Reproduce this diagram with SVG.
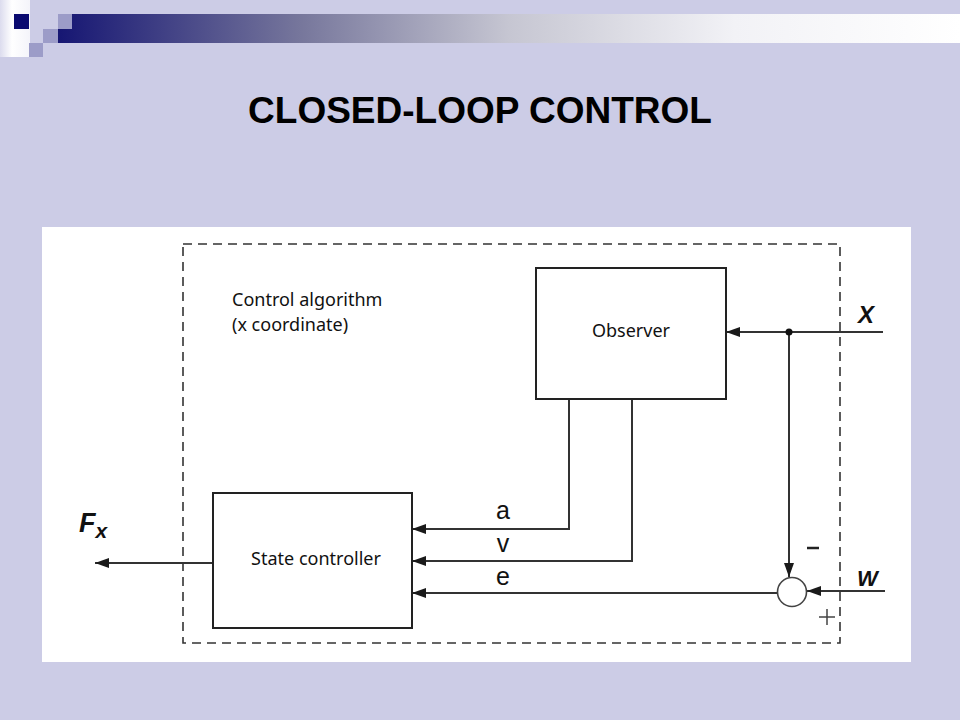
<svg xmlns="http://www.w3.org/2000/svg" width="960" height="720" viewBox="0 0 960 720">
<defs>
<linearGradient id="bar" x1="58" y1="0" x2="960" y2="0" gradientUnits="userSpaceOnUse">
<stop offset="0" stop-color="#161673"/>
<stop offset="0.27" stop-color="#77779C"/>
<stop offset="0.5" stop-color="#C6C6D2"/>
<stop offset="0.75" stop-color="#F2F2F6"/>
<stop offset="1" stop-color="#FFFFFF"/>
</linearGradient>
<linearGradient id="strip" x1="0" y1="0" x2="30" y2="0" gradientUnits="userSpaceOnUse">
<stop offset="0" stop-color="#DCDCEE"/>
<stop offset="0.4" stop-color="#FFFFFF"/>
<stop offset="1" stop-color="#F4F4FA"/>
</linearGradient>
<marker id="ah" viewBox="0 0 14 10" refX="14" refY="5" markerWidth="14" markerHeight="10" markerUnits="userSpaceOnUse" orient="auto">
<path d="M0,0 L14,5 L0,10 Z" fill="#1a1a1a"/>
</marker>
<style>
.box{fill:#fff;stroke:#222;stroke-width:2}
.wire{fill:none;stroke:#333;stroke-width:2}
.lbl{font-family:"Noto Sans","Open Sans",sans-serif;font-size:18px;fill:#111}
.sig{font-family:"Liberation Sans",Arial,sans-serif;font-size:25px;fill:#111;text-anchor:middle}
.var{font-family:"Liberation Sans",Arial,sans-serif;font-weight:bold;font-style:italic;fill:#111}
</style>
</defs>
<rect x="0" y="0" width="960" height="720" fill="#CCCCE6"/>
<g id="decoration">
<rect x="0" y="0" width="30" height="57" fill="url(#strip)"/>
<rect x="58" y="14" width="902" height="29" fill="url(#bar)"/>
<rect x="14" y="14" width="15" height="15" fill="#0A0A70"/>
<rect x="58" y="14" width="14" height="15" fill="#9C9CC8"/>
<rect x="43" y="29" width="15" height="14" fill="#9C9CC8"/>
<rect x="29" y="43" width="14" height="14" fill="#9C9CC8"/>
</g>
<text x="480" y="123" text-anchor="middle" font-family="Liberation Sans, Arial, sans-serif" font-weight="bold" font-size="37" fill="#000">CLOSED-LOOP CONTROL</text>
<rect x="42" y="227" width="869" height="435" fill="#FFFFFF"/>
<g id="algorithm-boundary">
<rect x="183" y="244" width="657" height="399" fill="none" stroke="#333" stroke-width="1.6" stroke-dasharray="9 6"/>
<text class="lbl" x="232" y="306">Control algorithm</text>
<text class="lbl" x="232" y="331">(x coordinate)</text>
</g>
<g id="connectors">
<path class="wire" d="M883,332 L726,332" marker-end="url(#ah)"/>
<path class="wire" d="M789,332 L789,577" marker-end="url(#ah)"/>
<path class="wire" d="M885,591 L807,591" marker-end="url(#ah)"/>
<path class="wire" d="M569,399 L569,529 L412,529" marker-end="url(#ah)"/>
<path class="wire" d="M632,399 L632,561 L412,561" marker-end="url(#ah)"/>
<path class="wire" d="M777,593 L412,593" marker-end="url(#ah)"/>
<path class="wire" d="M213,563 L95,563" marker-end="url(#ah)"/>
<circle cx="789" cy="332" r="3.5" fill="#111"/>
<text class="sig" x="503" y="519">a</text>
<text class="sig" x="503" y="552">v</text>
<text class="sig" x="503" y="585">e</text>
<text class="var" x="858" y="323" font-size="24">X</text>
<text class="var" x="857" y="586" font-size="22">W</text>
<text class="var" x="79" y="532" font-size="27">F<tspan font-size="21" dy="6">x</tspan></text>
</g>
<g id="observer">
<rect class="box" x="536" y="268" width="190" height="131"/>
<text class="lbl" x="631" y="337" text-anchor="middle">Observer</text>
</g>
<g id="state-controller">
<rect class="box" x="213" y="493" width="199" height="135"/>
<text class="lbl" x="316" y="565" text-anchor="middle">State controller</text>
</g>
<g id="summing-junction">
<circle cx="792" cy="592" r="14.5" fill="#fff" stroke="#444" stroke-width="1.6"/>
<line x1="807" y1="548" x2="819" y2="548" stroke="#222" stroke-width="2.5"/>
<path d="M819,617 L835,617 M827,609 L827,625" stroke="#444" stroke-width="1.5" fill="none"/>
</g>
</svg>
